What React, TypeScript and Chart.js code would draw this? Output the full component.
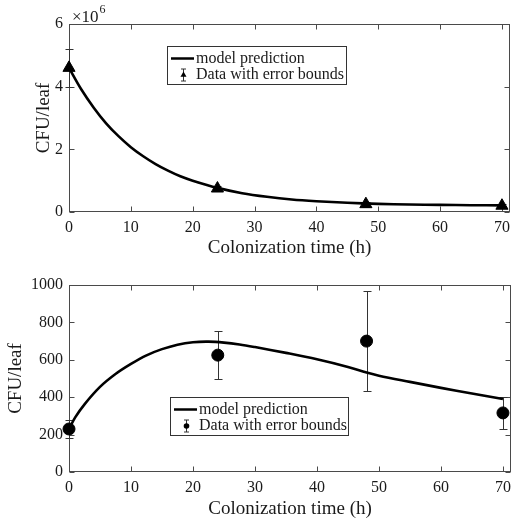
import React, { useEffect, useRef } from "react";
import { Chart, registerables } from "chart.js";

Chart.register(...registerables);

const FONT = "'Liberation Serif', 'Times New Roman', serif";
const TEXT = "#1a1a1a";
const AXIS = "#4a4a4a";

// ---------- Top panel data ----------
const modelTime1 = [0, 2, 4, 6, 8, 10, 12, 14, 16, 18, 20, 24, 28, 32, 36, 40, 45, 50, 55, 60, 65, 70];
const modelCfu1 = [
  4600000, 3910000, 3330000, 2830000, 2420000, 2070000, 1780000, 1530000, 1320000, 1140000, 1000000,
  770000, 600000, 485000, 400000, 345000, 295000, 260000, 240000, 226000, 217000, 210000,
];
const dataTime1 = [0, 24, 48, 70];
const dataCfu1 = [4600000, 750000, 250000, 200000];
const dataErr1 = [600000, 90000, 80000, 40000];
const yTicks1 = [0, 2000000, 4000000, 6000000];

// ---------- Bottom panel data ----------
const modelTime2 = [0, 1, 2.5, 5, 7.5, 10, 12.5, 15, 17.5, 20, 22.5, 25, 27.5, 30, 35, 40, 45, 48, 50, 55, 60, 65, 70];
const modelCfu2 = [230, 292, 362, 455, 524, 578, 624, 657, 681, 694, 697, 692, 682, 668, 637, 603, 562, 532, 515, 482, 450, 420, 390];
const dataTime2 = [0, 24, 48, 70];
const dataCfu2 = [230, 625, 700, 316];
const dataErr2 = [50, 128, 267, 85];
const yTicks2 = [0, 200, 400, 600, 800, 1000];

const xTicks = [0, 10, 20, 30, 40, 50, 60, 70];
const X_LABEL = "Colonization time (h)";
const Y_LABEL = "CFU/leaf";
const LEGEND_LINE = "model prediction";
const LEGEND_DATA = "Data with error bounds";

const TICK = 5;

function drawMarker(ctx: CanvasRenderingContext2D, kind: string, x: number, y: number, r: number) {
  ctx.beginPath();
  if (kind === "triangle") {
    let rad = 0;
    ctx.moveTo(x + Math.sin(rad) * r, y - Math.cos(rad) * r);
    rad += (2 * Math.PI) / 3;
    ctx.lineTo(x + Math.sin(rad) * r, y - Math.cos(rad) * r);
    rad += (2 * Math.PI) / 3;
    ctx.lineTo(x + Math.sin(rad) * r, y - Math.cos(rad) * r);
    ctx.closePath();
  } else {
    ctx.arc(x, y, r, 0, Math.PI * 2);
  }
  ctx.fillStyle = "#000";
  ctx.fill();
}

const matlabPlugin = {
  id: "matlab",
  beforeDatasetsDraw(chart: any, _args: any, opts: any) {
    const { ctx, chartArea: a, scales } = chart;
    const xs = scales.x;
    const ys = scales.y;
    ctx.save();
    ctx.strokeStyle = AXIS;
    ctx.lineWidth = 1;
    const L = Math.round(a.left) + 0.5;
    const R = Math.round(a.right) - 0.5;
    const T = Math.round(a.top) + 0.5;
    const B = Math.round(a.bottom) - 0.5;
    ctx.strokeRect(L, T, R - L, B - T);
    ctx.beginPath();
    xs.ticks.forEach((t: any) => {
      const px = Math.round(xs.getPixelForValue(t.value)) + 0.5;
      ctx.moveTo(px, B);
      ctx.lineTo(px, B - TICK);
      ctx.moveTo(px, T);
      ctx.lineTo(px, T + TICK);
    });
    ys.ticks.forEach((t: any) => {
      const py = Math.round(ys.getPixelForValue(t.value)) + 0.5;
      ctx.moveTo(L, py);
      ctx.lineTo(L + TICK, py);
      ctx.moveTo(R, py);
      ctx.lineTo(R - TICK, py);
    });
    ctx.stroke();

    // error bars
    const times: number[] = opts.times;
    const vals: number[] = opts.values;
    const errs: number[] = opts.errors;
    ctx.strokeStyle = "#333";
    ctx.lineWidth = 1;
    ctx.beginPath();
    times.forEach((t, i) => {
      const px = Math.round(xs.getPixelForValue(t)) + 0.5;
      const yh = Math.round(ys.getPixelForValue(vals[i] + errs[i])) + 0.5;
      const yl = Math.round(ys.getPixelForValue(vals[i] - errs[i])) + 0.5;
      ctx.moveTo(px, yh);
      ctx.lineTo(px, yl);
      ctx.moveTo(px - 4, yh);
      ctx.lineTo(px + 4, yh);
      ctx.moveTo(px - 4, yl);
      ctx.lineTo(px + 4, yl);
    });
    ctx.stroke();
    ctx.restore();
  },
  afterDraw(chart: any, _args: any, opts: any) {
    const { ctx, chartArea: a } = chart;
    ctx.save();
    // exponent label
    if (opts.exponent) {
      ctx.fillStyle = TEXT;
      ctx.textBaseline = "alphabetic";
      ctx.textAlign = "left";
      ctx.font = `17px ${FONT}`;
      const x0 = a.left + 3;
      ctx.fillText("\u00d710", x0, a.top - 2);
      const w = ctx.measureText("\u00d710").width;
      ctx.font = `12px ${FONT}`;
      ctx.fillText(opts.exponent, x0 + w + 1, a.top - 11);
    }
    // legend
    const lg = opts.legend;
    ctx.fillStyle = "#fff";
    ctx.fillRect(lg.x, lg.y, lg.w, lg.h);
    ctx.strokeStyle = "#333";
    ctx.lineWidth = 1;
    ctx.strokeRect(lg.x + 0.5, lg.y + 0.5, lg.w, lg.h);
    const r1 = lg.y + 12.5;
    const r2 = lg.y + 29;
    ctx.strokeStyle = "#000";
    ctx.lineWidth = 2.5;
    ctx.beginPath();
    ctx.moveTo(lg.x + 4, r1);
    ctx.lineTo(lg.x + 27, r1);
    ctx.stroke();
    const mx = lg.x + 16.5;
    ctx.strokeStyle = "#333";
    ctx.lineWidth = 1;
    ctx.beginPath();
    ctx.moveTo(mx, r2 - 6);
    ctx.lineTo(mx, r2 + 6);
    ctx.moveTo(mx - 2.5, r2 - 6);
    ctx.lineTo(mx + 2.5, r2 - 6);
    ctx.moveTo(mx - 2.5, r2 + 6);
    ctx.lineTo(mx + 2.5, r2 + 6);
    ctx.stroke();
    drawMarker(ctx, lg.marker, mx, r2, lg.marker === "triangle" ? 3.5 : 2.8);
    ctx.fillStyle = TEXT;
    ctx.font = `16px ${FONT}`;
    ctx.textBaseline = "middle";
    ctx.textAlign = "left";
    ctx.fillText(LEGEND_LINE, lg.x + 29, r1);
    ctx.fillText(LEGEND_DATA, lg.x + 29, r2);
    ctx.restore();
  },
};

interface PanelProps {
  top: number;
  padTop: number;
  xHeight: number;
  xTitlePad: number;
  yTitlePad: number;
  modelTime: number[];
  modelCfu: number[];
  dataTime: number[];
  dataCfu: number[];
  dataErr: number[];
  yTicks: number[];
  yDiv: number;
  exponent: string | null;
  marker: string;
  markerRadius: number;
  legend: { x: number; y: number; w: number; h: number };
}

function Panel(p: PanelProps) {
  const ref = useRef<HTMLCanvasElement | null>(null);
  useEffect(() => {
    if (!ref.current) return;
    const yMin = p.yTicks[0];
    const yMax = p.yTicks[p.yTicks.length - 1];
    const chart = new Chart(ref.current, {
      type: "scatter",
      data: {
        datasets: [
          {
            type: "line",
            label: LEGEND_LINE,
            data: p.modelTime.map((t, i) => ({ x: t, y: p.modelCfu[i] })),
            borderColor: "#000",
            borderWidth: 2.6,
            pointRadius: 0,
            tension: 0.35,
            fill: false,
          } as any,
          {
            type: "scatter",
            label: LEGEND_DATA,
            data: p.dataTime.map((t, i) => ({ x: t, y: p.dataCfu[i] })),
            pointStyle: p.marker as any,
            pointRadius: p.markerRadius,
            backgroundColor: "#000",
            borderColor: "#000",
            borderWidth: 1,
            clip: false as any,
          } as any,
        ],
      },
      options: {
        responsive: false,
        animation: false,
        devicePixelRatio: 1,
        layout: { padding: { top: p.padTop, right: 1, left: 0, bottom: 0 } },
        plugins: {
          legend: { display: false },
          tooltip: { enabled: false },
          matlab: {
            times: p.dataTime,
            values: p.dataCfu,
            errors: p.dataErr,
            exponent: p.exponent,
            legend: { ...p.legend, marker: p.marker },
          },
        } as any,
        scales: {
          x: {
            type: "linear",
            min: 0,
            max: 71.3,
            afterBuildTicks: (s: any) => {
              s.ticks = xTicks.map((v) => ({ value: v }));
            },
            afterFit: (s: any) => {
              s.height = p.xHeight;
              s.paddingLeft = 0;
              s.paddingRight = 0;
            },
            grid: { display: false, drawTicks: false },
            border: { display: false },
            ticks: {
              padding: 6,
              color: TEXT,
              font: { family: FONT, size: 16 },
              maxRotation: 0,
              autoSkip: false,
            },
            title: {
              display: true,
              text: X_LABEL,
              color: TEXT,
              font: { family: FONT, size: 19 },
              padding: { top: 0, bottom: p.xTitlePad },
            },
          },
          y: {
            type: "linear",
            min: yMin,
            max: yMax,
            afterBuildTicks: (s: any) => {
              s.ticks = p.yTicks.map((v) => ({ value: v }));
            },
            afterFit: (s: any) => {
              s.width = 69;
              s.paddingTop = 0;
              s.paddingBottom = 0;
            },
            grid: { display: false, drawTicks: false },
            border: { display: false },
            ticks: {
              padding: 6,
              color: TEXT,
              font: { family: FONT, size: 16 },
              autoSkip: false,
              callback: (v: any) => String(Number(v) / p.yDiv),
            },
            title: {
              display: true,
              text: Y_LABEL,
              color: TEXT,
              font: { family: FONT, size: 19 },
              padding: { top: p.yTitlePad, bottom: 0 },
            },
          },
        },
      },
      plugins: [matlabPlugin as any],
    });
    return () => chart.destroy();
  }, []);
  return (
    <div style={{ position: "absolute", left: 0, top: p.top, width: 518, height: 262 }}>
      <canvas ref={ref} width={518} height={262} style={{ display: "block", width: 518, height: 262 }} />
    </div>
  );
}

export default function App() {
  return (
    <div style={{ position: "absolute", left: 0, top: 0, width: 518, height: 524, background: "#fff", overflow: "hidden" }}>
      <Panel
        top={0}
        padTop={24}
        xHeight={50}
        xTitlePad={3}
        yTitlePad={33}
        modelTime={modelTime1}
        modelCfu={modelCfu1}
        dataTime={dataTime1}
        dataCfu={dataCfu1}
        dataErr={dataErr1}
        yTicks={yTicks1}
        yDiv={1000000}
        exponent="6"
        marker="triangle"
        markerRadius={7}
        legend={{ x: 167, y: 46, w: 179, h: 38 }}
      />
      <Panel
        top={262}
        padTop={23}
        xHeight={52}
        xTitlePad={4}
        yTitlePad={5}
        modelTime={modelTime2}
        modelCfu={modelCfu2}
        dataTime={dataTime2}
        dataCfu={dataCfu2}
        dataErr={dataErr2}
        yTicks={yTicks2}
        yDiv={1}
        exponent={null}
        marker="circle"
        markerRadius={6}
        legend={{ x: 170, y: 135, w: 178, h: 38 }}
      />
    </div>
  );
}
